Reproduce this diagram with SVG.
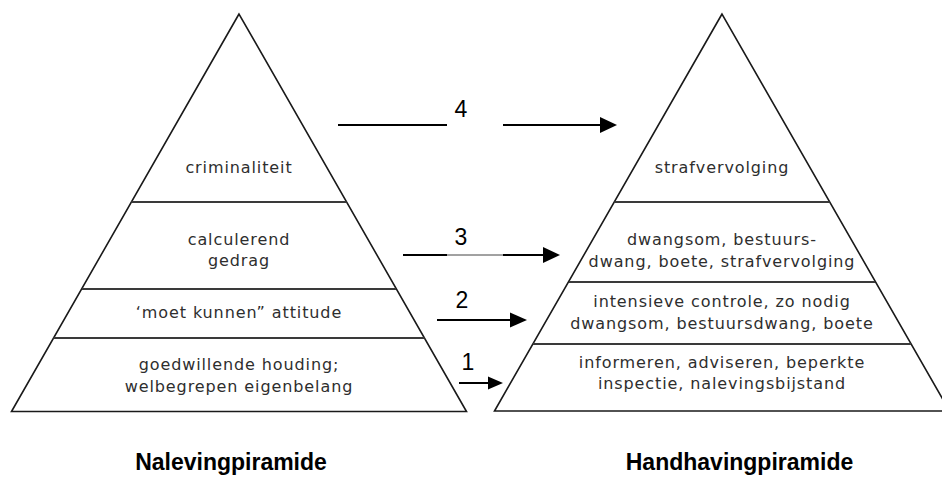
<svg xmlns="http://www.w3.org/2000/svg" width="942" height="477" viewBox="0 0 942 477">
  <style>
    .tri { fill: #ffffff; stroke: #1a1a1a; stroke-width: 1.6; stroke-linejoin: miter; }
    .div { stroke: #3a3a3a; stroke-width: 2; }
    .lbl { font-family: "DejaVu Sans", "Liberation Sans", sans-serif; font-size: 16px; letter-spacing: 0.9px; fill: #2e2e2e; text-anchor: middle; }
    .num { font-family: "Liberation Sans", Arial, sans-serif; font-size: 23px; fill: #000; text-anchor: middle; }
    .title { font-family: "Liberation Sans", Arial, sans-serif; font-size: 23px; font-weight: bold; fill: #000; text-anchor: middle; }
    .ln { stroke: #000; stroke-width: 2; }
    .thin { stroke: #444; stroke-width: 1; }
    .head { fill: #000; }
  </style>
  <rect width="942" height="477" fill="#ffffff"/>

  <g id="naleving-pyramid">
    <polygon class="tri" points="239,14 11.5,411.5 466.5,411.5"/>
    <line class="div" x1="131.5" y1="202" x2="346.5" y2="202"/>
    <line class="div" x1="82" y1="289" x2="396" y2="289"/>
    <line class="div" x1="53.5" y1="338" x2="424.5" y2="338"/>
  </g>
  <g id="n-criminaliteit"><text class="lbl" x="239" y="173">criminaliteit</text></g>
  <g id="n-calculerend"><text class="lbl" x="239" y="245">calculerend</text><text class="lbl" x="239" y="266">gedrag</text></g>
  <g id="n-moet-kunnen"><text class="lbl" x="239" y="318">‘moet kunnen” attitude</text></g>
  <g id="n-goedwillende"><text class="lbl" x="239" y="370">goedwillende houding;</text><text class="lbl" x="239" y="392">welbegrepen eigenbelang</text></g>

  <g id="handhaving-pyramid">
    <polygon class="tri" points="722,14 494.5,411 949.5,411"/>
    <line class="div" x1="614.5" y1="202" x2="829.5" y2="202"/>
    <line class="div" x1="569" y1="282" x2="875" y2="282"/>
    <line class="div" x1="533" y1="344" x2="911" y2="344"/>
  </g>
  <g id="h-strafvervolging"><text class="lbl" x="722" y="173">strafvervolging</text></g>
  <g id="h-dwangsom"><text class="lbl" x="722" y="245">dwangsom, bestuurs-</text><text class="lbl" x="722" y="267">dwang, boete, strafvervolging</text></g>
  <g id="h-intensieve"><text class="lbl" x="722" y="307">intensieve controle, zo nodig</text><text class="lbl" x="722" y="329">dwangsom, bestuursdwang, boete</text></g>
  <g id="h-informeren"><text class="lbl" x="722" y="368">informeren, adviseren, beperkte</text><text class="lbl" x="722" y="389">inspectie, nalevingsbijstand</text></g>

  <g id="connectors">
    <line class="ln" x1="338" y1="125" x2="447" y2="125"/>
    <line class="ln" x1="503" y1="125" x2="601" y2="125"/>
    <polygon class="head" points="600,117 617,125 600,133"/>

    <line class="ln" x1="403" y1="255" x2="447" y2="255"/>
    <line class="thin" x1="447" y1="255" x2="503" y2="255"/>
    <line class="ln" x1="503" y1="255" x2="544" y2="255"/>
    <polygon class="head" points="543,247 560,255 543,263"/>

    <line class="ln" x1="437" y1="320" x2="511" y2="320"/>
    <polygon class="head" points="510,312.5 527,320 510,327.5"/>

    <line class="ln" x1="459" y1="383" x2="489" y2="383"/>
    <polygon class="head" points="488,376.5 503,383 488,389.5"/>

    <text class="num" x="461" y="117">4</text>
    <text class="num" x="461" y="245">3</text>
    <text class="num" x="462" y="308">2</text>
    <text class="num" x="468" y="370">1</text>
  </g>

  <g id="titles">
    <text class="title" x="231" y="470">Nalevingpiramide</text>
    <text class="title" x="739.5" y="470">Handhavingpiramide</text>
  </g>
</svg>
